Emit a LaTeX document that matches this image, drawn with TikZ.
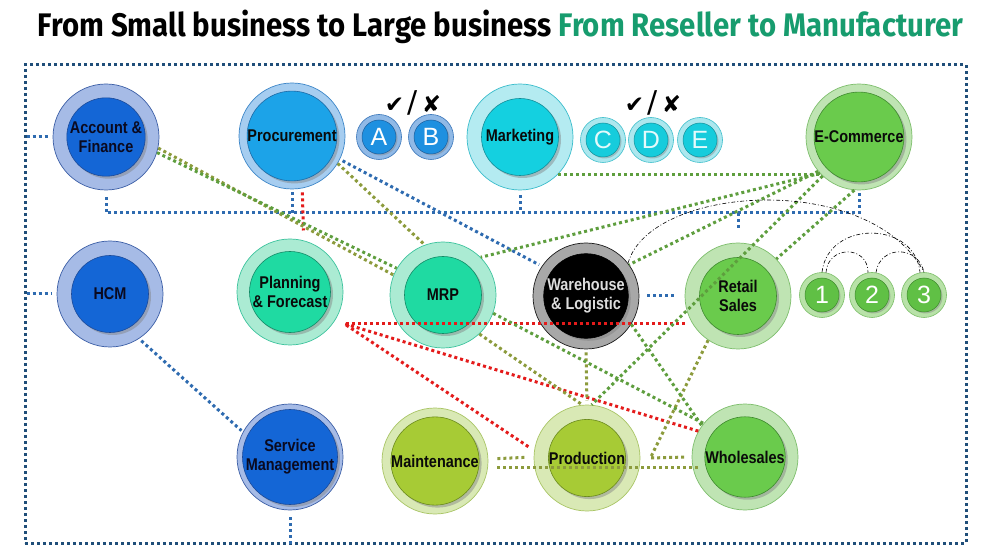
\documentclass[tikz,border=0pt]{standalone}
\usepackage{fontspec}
\setmainfont{Liberation Sans}
\newfontfamily\titlefont[FakeStretch=0.9]{Fira Sans}
\newfontfamily\lblfont[FakeStretch=0.85]{Liberation Sans}
\newfontfamily\symfont{DejaVu Sans}
\usetikzlibrary{shadows,backgrounds}

% ring colours: line / outer fill / inner rim / inner fill / text
\definecolor{acct-line}{HTML}{3B5EA6}\definecolor{acct-out}{HTML}{A6BBE6}
\definecolor{acct-rim}{HTML}{1B4A9A}\definecolor{acct-in}{HTML}{1466D6}\definecolor{acct-txt}{HTML}{0A0A20}
\definecolor{sky-line}{HTML}{3C86C8}\definecolor{sky-out}{HTML}{A6CDF0}
\definecolor{sky-rim}{HTML}{1C6AA6}\definecolor{sky-in}{HTML}{1CA3E8}\definecolor{sky-txt}{HTML}{0A0A0A}
\definecolor{cyan-line}{HTML}{38BCCB}\definecolor{cyan-out}{HTML}{B4EBF1}
\definecolor{cyan-rim}{HTML}{138C97}\definecolor{cyan-in}{HTML}{14D0E0}\definecolor{cyan-txt}{HTML}{0A0A0A}
\definecolor{leaf-line}{HTML}{7DBE6C}\definecolor{leaf-out}{HTML}{BFE4B3}
\definecolor{leaf-rim}{HTML}{3E8A2E}\definecolor{leaf-in}{HTML}{6ACB4C}\definecolor{leaf-txt}{HTML}{0A0A0A}
\definecolor{mint-line}{HTML}{3CC39D}\definecolor{mint-out}{HTML}{ABEBD3}
\definecolor{mint-rim}{HTML}{128A66}\definecolor{mint-in}{HTML}{1FDAA2}\definecolor{mint-txt}{HTML}{0A0A0A}
\definecolor{gray-line}{HTML}{1A1A1A}\definecolor{gray-out}{HTML}{A8A8A8}
\definecolor{gray-rim}{HTML}{000000}\definecolor{gray-in}{HTML}{000000}\definecolor{gray-txt}{HTML}{DDDDDD}
\definecolor{lime-line}{HTML}{A9C565}\definecolor{lime-out}{HTML}{D9E9B5}
\definecolor{lime-rim}{HTML}{6A8A1C}\definecolor{lime-in}{HTML}{A7CB35}\definecolor{lime-txt}{HTML}{0A0A0A}
\definecolor{optab-line}{HTML}{3573B8}\definecolor{optab-out}{HTML}{90B9E6}
\definecolor{optab-rim}{HTML}{1B5D9C}\definecolor{optab-in}{HTML}{1E90E0}\definecolor{optab-txt}{HTML}{FFFFFF}
\definecolor{optcde-line}{HTML}{3CBFCB}\definecolor{optcde-out}{HTML}{ACE7EE}
\definecolor{optcde-rim}{HTML}{12909A}\definecolor{optcde-in}{HTML}{16CCDC}\definecolor{optcde-txt}{HTML}{E4FAFB}
\definecolor{num-line}{HTML}{7ABE66}\definecolor{num-out}{HTML}{B8E2A8}
\definecolor{num-rim}{HTML}{3D8A2C}\definecolor{num-in}{HTML}{60C045}\definecolor{num-txt}{HTML}{FFFFFF}
% link colours
\definecolor{framenavy}{HTML}{1F4E79}
\definecolor{linkblue}{HTML}{2E6BB0}
\definecolor{linkred}{HTML}{E41B1B}
\definecolor{linkolive}{HTML}{8C9B3C}
\definecolor{linkgreen}{HTML}{5E9E3E}
\definecolor{titlegreen}{HTML}{179C6E}

\begin{document}
\begin{tikzpicture}[x=1pt, y=-1pt,
  ring/.style={circle, draw=#1-line, fill=#1-out, line width=0.7pt, minimum size=106pt, inner sep=0pt},
  core/.style={circle, draw=#1-rim, fill=#1-in, line width=0.6pt, minimum size=77pt, inner sep=0pt,
    align=center, text=#1-txt, font=\lblfont\bfseries\fontsize{17}{19}\selectfont,
    drop shadow={opacity=0.45, shadow xshift=2.5pt, shadow yshift=-2.5pt}},
  smallring/.style={circle, draw=#1-line, fill=#1-out, line width=0.6pt, minimum size=45pt, inner sep=0pt},
  smallcore/.style={circle, draw=#1-rim, fill=#1-in, line width=0.5pt, minimum size=34pt, inner sep=0pt,
    text=#1-txt, font=\fontsize{25}{25}\selectfont,
    drop shadow={opacity=0.4, shadow xshift=1.5pt, shadow yshift=-1.5pt}},
  pick/.style={inner sep=0pt, font=\symfont\fontsize{23}{23}\selectfont},
  framebox/.style={draw=framenavy, line width=3pt, dash pattern=on 3pt off 3pt, minimum width=941pt, minimum height=478pt},
  bluedot/.style={draw=linkblue, line width=3pt, dash pattern=on 3pt off 3pt},
  reddot/.style={draw=linkred, line width=3pt, dash pattern=on 3pt off 3pt},
  olivedot/.style={draw=linkolive, line width=3pt, dash pattern=on 3pt off 3pt},
  greendot/.style={draw=linkgreen, line width=3pt, dash pattern=on 3pt off 3pt},
  dashdotline/.style={draw=black, line width=0.6pt, dash pattern=on 4pt off 2pt on 1pt off 2pt}
]
  \fill[white] (0,0) rectangle (989,556);

  % title
  \node[anchor=base, inner sep=0pt] (title) at (500.5,37)
    {\resizebox{925pt}{!}{\titlefont\bfseries From Small business to Large business \textcolor{titlegreen}{From Reseller to Manufacturer}}};

  \node[framebox] (frame) at (495.5,304) {};

  % big rings
  \foreach \nm/\x/\y/\grp/\txt in {
      acc/106/137/acct/{Account \&\\Finance},
      proc/292/136/sky/{Procurement},
      mkt/520/137/cyan/{Marketing},
      ecom/859/137/leaf/{E-Commerce},
      hcm/110/294/acct/{HCM},
      plan/290/292/mint/{Planning\\\& Forecast},
      mrp/443/295/mint/{MRP},
      wh/586/296/gray/{Warehouse\\\& Logistic},
      retail/738/296/leaf/{Retail\\Sales},
      svc/290/457/acct/{Service\\Management},
      mnt/435/461/lime/{Maintenance},
      prod/587/458/lime/{Production},
      whs/745/457/leaf/{Wholesales}} {
    \node[ring=\grp] (\nm) at (\x,\y) {};
    \node[core=\grp] (\nm-in) at (\x,\y) {\txt};
  }

  % small option rings
  \foreach \nm/\x/\y/\grp/\txt in {
      optA/379/137/optab/A, optB/431/137/optab/B,
      optC/603/140/optcde/C, optD/651/140/optcde/D, optE/700/140/optcde/E,
      n1/822/295/num/1, n2/872/295/num/2, n3/924/295/num/3} {
    \node[smallring=\grp] (\nm) at (\x,\y) {};
    \node[smallcore=\grp] (\nm-in) at (\x,\y) {\txt};
  }

  \node[pick] (pickAB) at (413,103) {✔\,{\fontsize{30}{30}\selectfont /}\,✘};
  \node[pick] (pickCDE) at (653,103) {✔\,{\fontsize{30}{30}\selectfont /}\,✘};

  % blue links
  \coordinate (bus) at (0,213);
  \draw[bluedot, shorten <=3pt, shorten >=5pt] (acc.west -| frame.west) -- (acc.west);
  \draw[bluedot, shorten <=3pt, shorten >=5pt] (hcm.west -| frame.west) -- (hcm.west);
  \draw[bluedot] ([yshift=-7pt]acc.south) -- (acc.south |- bus) -- (ecom.south |- bus) -- ([yshift=-2pt]ecom.south);
  \draw[bluedot] ([yshift=-3pt]proc.south) -- (proc.south |- bus);
  \draw[bluedot] ([yshift=-5pt]mkt.south) -- (mkt.south |- bus);
  \draw[bluedot] (retail.north |- bus) -- ([yshift=15pt]retail.north);
  \draw[bluedot, shorten <=3pt, shorten >=3pt] (proc.-26) -- (wh.146);
  \draw[bluedot, shorten <=8pt, shorten >=11pt] (wh.east) -- (retail.west);
  \draw[bluedot, shorten <=3pt, shorten >=2pt] (hcm.-57) -- (svc.152);
  \draw[bluedot, shorten <=7pt] (svc.south) -- (svc.south |- frame.south);

  % red links
  \coordinate (hub) at ([xshift=8pt, yshift=-5pt]plan.-30);
  \draw[reddot, shorten <=4pt, shorten >=10pt] (proc.-79) -- (plan.75);
  \draw[reddot] (retail.west |- hub) -- (hub);
  \draw[reddot] (whs.151) -- (hub);
  \draw[reddot, shorten <=7pt] (prod.172) -- (hub);

  % green links
  \begin{pgfonlayer}{background}
    \draw[greendot] (proc.-28) -- (whs.139);
  \end{pgfonlayer}
  \draw[olivedot] (acc.-12) -- (mrp.158);
  \draw[greendot] (acc.-17) -- (mrp.150);
  \draw[olivedot] (proc.-31) -- (mrp.110);
  \draw[greendot] (mkt.-44) -- (ecom.-136);
  \draw[greendot] (ecom.-137) -- (mrp.45);
  \draw[greendot] (ecom.-140) -- (wh.36);
  \draw[greendot] (ecom.-133) -- (prod.85);
  \draw[greendot] (ecom.-95) -- (retail.44);
  \draw[olivedot] (retail.-124) -- ([xshift=10pt]prod.east) -- ([xshift=-5pt]whs.west);
  \coordinate (lowline) at ([yshift=-6pt]mnt.east);
  \draw[olivedot, shorten <=9pt, shorten >=9pt] ([yshift=2pt]mnt.east) -- ([yshift=1pt]prod.west);
  \draw[olivedot, shorten <=9pt, shorten >=-8pt] (lowline) -- (lowline -| whs.west);
  \draw[olivedot, shorten <=3pt, shorten >=4pt] (wh.south) -- (prod.north);
  \draw[olivedot] (mrp.-47) -- (prod.95);
  \draw[greendot] (mrp.-20) -- (whs.141);
  \draw[greendot] (wh.-32) -- (whs.144);

  % dash-dot arcs
  \draw[dashdotline] (wh.38) .. controls (650,185) and (870,170) .. (n3.north);
  \draw[dashdotline] (n1.north) .. controls (828,220) and (915,220) .. (n3.100);
  \draw[dashdotline] (n1.80) .. controls (828,245) and (868,245) .. (n2.100);
  \draw[dashdotline] (n2.80) .. controls (880,245) and (918,245) .. (n3.north);
\end{tikzpicture}
\end{document}
